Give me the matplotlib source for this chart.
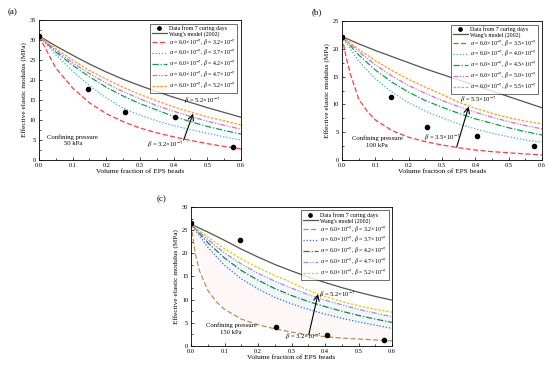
import numpy as np
import matplotlib
matplotlib.use('Agg')
import matplotlib.pyplot as plt
from matplotlib.ticker import MultipleLocator

plt.rcParams['font.family'] = ['Liberation Serif', 'DejaVu Serif']
plt.rcParams['mathtext.fontset'] = 'stix'

# volume fraction grids
phi = [0, 0.05, 0.1, 0.15, 0.2, 0.25, 0.3, 0.35, 0.4, 0.45, 0.5, 0.55, 0.6]
phi_fine = [0, 0.0125, 0.025, 0.05, 0.075, 0.1, 0.15, 0.2, 0.25, 0.3, 0.35, 0.4, 0.45, 0.5, 0.55, 0.6]

# test data (7 curing days)
data_phi = [0, 0.147, 0.255, 0.405, 0.577]
data_a = [31.0, 17.8, 12.1, 10.8, 3.3]
data_b = [22.2, 11.3, 6.0, 4.4, 2.5]
data_c = [26.5, 22.9, 4.1, 2.4, 1.4]

# panel (a) 50 kPa
wang_a = [31, 28.5, 26.2, 24.0, 22.0, 20.2, 18.6, 17.1, 15.7, 14.4, 13.1, 11.9, 10.7]
a_b1 = [31, 23.0, 18.0, 14.3, 11.6, 9.6, 8.0, 6.8, 5.8, 4.9, 4.1, 3.4, 2.8]
a_b2 = [31, 26.3, 22.2, 18.6, 15.5, 13.0, 11.2, 9.8, 8.6, 7.6, 6.7, 5.8, 5.0]
a_b3 = [31, 27.0, 23.7, 20.8, 18.2, 16.0, 14.1, 12.5, 10.9, 9.6, 8.4, 7.4, 6.5]
a_b4 = [31, 27.4, 24.3, 21.6, 19.2, 17.1, 15.3, 13.6, 12.2, 10.9, 9.7, 8.7, 7.7]
a_b5 = [31, 27.8, 25.0, 22.4, 20.2, 18.2, 16.4, 14.8, 13.3, 12.0, 10.8, 9.8, 8.8]

# panel (b) 100 kPa
wang_b = [22.2, 20.9, 19.7, 18.6, 17.5, 16.4, 15.4, 14.4, 13.4, 12.4, 11.4, 10.4, 9.4]
b_b1 = [22.2, 18.5, 15.5, 11.0, 8.8, 7.2, 5.3, 4.1, 3.3, 2.7, 2.2, 1.8, 1.5, 1.3, 1.1, 0.9]
b_b2 = [22.2, 17.8, 14.6, 12.2, 10.3, 8.8, 7.6, 6.5, 5.6, 4.8, 4.2, 3.6, 3.2]
b_b3 = [22.2, 18.9, 16.2, 14.0, 12.2, 10.7, 9.5, 8.4, 7.4, 6.6, 5.8, 5.1, 4.5]
b_b4 = [22.2, 19.5, 17.1, 15.1, 13.4, 12.0, 10.7, 9.6, 8.6, 7.7, 6.9, 6.2, 5.6]
b_b5 = [22.2, 19.9, 17.9, 16.1, 14.5, 13.1, 11.8, 10.4, 9.3, 8.4, 7.6, 7.0, 6.5]

# panel (c) 150 kPa
wang_c = [26.3, 24.6, 22.8, 20.9, 19.2, 17.6, 16.2, 14.9, 13.7, 12.6, 11.6, 10.7, 9.9]
c_b1 = [26.3, 20.0, 16.3, 12.0, 9.6, 7.9, 5.8, 4.6, 3.7, 3.0, 2.4, 2.0, 1.7, 1.5, 1.3, 1.1]
c_b2 = [26.3, 21.3, 17.4, 14.5, 12.3, 10.5, 9.1, 7.9, 6.9, 6.0, 5.2, 4.5, 3.8]
c_b3 = [26.3, 22.3, 19.0, 16.3, 14.2, 12.4, 10.9, 9.6, 8.5, 7.5, 6.6, 5.8, 5.1]
c_b4 = [26.3, 23.0, 20.1, 17.7, 15.7, 14.0, 12.5, 11.1, 9.9, 8.9, 7.9, 7.1, 6.3]
c_b5 = [26.3, 23.5, 21.0, 18.8, 16.9, 15.2, 13.7, 12.0, 10.7, 9.6, 8.7, 7.9, 7.3]

betas_a = ['3.2', '3.7', '4.2', '4.7', '5.2']
betas_b = ['3.5', '4.0', '4.5', '5.0', '5.5']

styles = [(0, (4, 2)), (0, (1, 1.5)), (0, (5, 1.5, 1, 1.5)),
          (0, (4, 1.2, 1, 1.2, 1, 1.2)), (0, (2, 1.2))]
cols_ab = ['#ff3b3b', '#3fa9dc', '#00a651', '#c86bf0', '#ff9a1a']
cols_c = ['#c8874f', '#4060ff', '#3f6f3f', '#9f85ff', '#e3cc00']


def beta_label(b):
    return r'$\alpha$ = 6.0×10$^{-7}$, $\beta$ = ' + b + r'×10$^{-7}$'


def panel(ax, data, wang, curves, betas, cols, ymax, first_fine):
    ax.plot(data_phi, data, 'o', color='black', ms=3.0, label='Data from 7 curing days', zorder=5)
    ax.plot(phi, wang, '-', color='#555555', lw=0.9, label="Wang's model (2002)")
    for i, (y, b, c, ls) in enumerate(zip(curves, betas, cols, styles)):
        x = phi_fine if (i == 0 and first_fine) else phi
        ax.plot(x, y, color=c, ls=ls, lw=0.9, label=beta_label(b))
    ax.set_xlim(0, 0.6)
    ax.set_ylim(0, ymax)
    ax.xaxis.set_major_locator(MultipleLocator(0.1))
    ax.xaxis.set_minor_locator(MultipleLocator(0.05))
    ax.yaxis.set_major_locator(MultipleLocator(5))
    ax.yaxis.set_minor_locator(MultipleLocator(2.5))
    ax.xaxis.set_major_formatter(matplotlib.ticker.FormatStrFormatter('%.1f'))
    ax.tick_params(which='both', direction='in', labelsize=4.6, pad=2, width=0.5)
    ax.tick_params(which='major', length=2.5)
    ax.tick_params(which='minor', length=1.5)
    for s in ax.spines.values():
        s.set_linewidth(0.6)
    ax.set_xlabel('Volume fraction of EPS beads', fontsize=5.2, labelpad=1)
    ax.set_ylabel('Effective elastic modulus (MPa)', fontsize=5.2, labelpad=2)
    leg = ax.legend(loc='upper right', fontsize=4.2, frameon=True, fancybox=False,
                    edgecolor='black', handlelength=2.6, handletextpad=0.4,
                    borderpad=0.25, labelspacing=0.05, borderaxespad=0.6,
                    markerscale=0.8)
    leg.get_frame().set_linewidth(0.5)


fig = plt.figure(figsize=(5.5, 3.68), dpi=100)
ax_a = fig.add_axes([0.0709, 0.5652, 0.367, 0.3804])
ax_b = fig.add_axes([0.6218, 0.5652, 0.3636, 0.3777])
ax_c = fig.add_axes([0.3473, 0.0598, 0.3655, 0.3777])

panel(ax_a, data_a, wang_a, [a_b1, a_b2, a_b3, a_b4, a_b5], betas_a, cols_ab, 35, False)
panel(ax_b, data_b, wang_b, [b_b1, b_b2, b_b3, b_b4, b_b5], betas_b, cols_ab, 25, True)
panel(ax_c, data_c, wang_c, [c_b1, c_b2, c_b3, c_b4, c_b5], betas_a, cols_c, 30, True)

# faint shading in (c)
c1 = np.interp(phi, phi_fine, c_b1)
ax_c.fill_between(phi, c1, c_b2, color='#fdf0f0', alpha=0.5, lw=0, zorder=0)
ax_c.fill_between(phi, c_b2, c_b4, color='#d8f3f5', alpha=0.45, lw=0, zorder=0)

ann = dict(fontsize=4.8)
arrow = dict(arrowstyle='->', color='black', lw=0.8, shrinkA=0, shrinkB=0)

ax_a.text(0.43, 14.3, r'$\beta$ = 5.2×10$^{-7}$', **ann)
ax_a.text(0.32, 3.3, r'$\beta$ = 3.2×10$^{-7}$', **ann)
ax_a.annotate('', xy=(0.458, 11.6), xytext=(0.43, 5.0), arrowprops=arrow)
ax_a.text(0.1, 5.0, 'Confining pressure\n50 kPa', ha='center', va='center', fontsize=4.8, linespacing=1.4)

ax_b.text(0.355, 10.5, r'$\beta$ = 5.5×10$^{-7}$', **ann)
ax_b.text(0.245, 3.6, r'$\beta$ = 3.5×10$^{-7}$', **ann)
ax_b.annotate('', xy=(0.38, 9.6), xytext=(0.344, 2.3), arrowprops=arrow)
ax_b.text(0.105, 3.3, 'Confining pressure\n100 kPa', ha='center', va='center', fontsize=4.8, linespacing=1.4)

ax_c.text(0.383, 10.6, r'$\beta$ = 5.2×10$^{-7}$', **ann)
ax_c.text(0.28, 1.6, r'$\beta$ = 3.2×10$^{-7}$', **ann)
ax_c.annotate('', xy=(0.379, 11.2), xytext=(0.352, 2.6), arrowprops=arrow)
ax_c.text(0.12, 3.7, 'Confining pressure\n150 kPa', ha='center', va='center', fontsize=4.8, linespacing=1.4)

fig.text(0.013, 0.967, '(a)', fontsize=6.5, va='center')
fig.text(0.567, 0.967, '(b)', fontsize=6.5, va='center')
fig.text(0.285, 0.459, '(c)', fontsize=6.5, va='center')

fig.savefig('out.png', dpi=100)
